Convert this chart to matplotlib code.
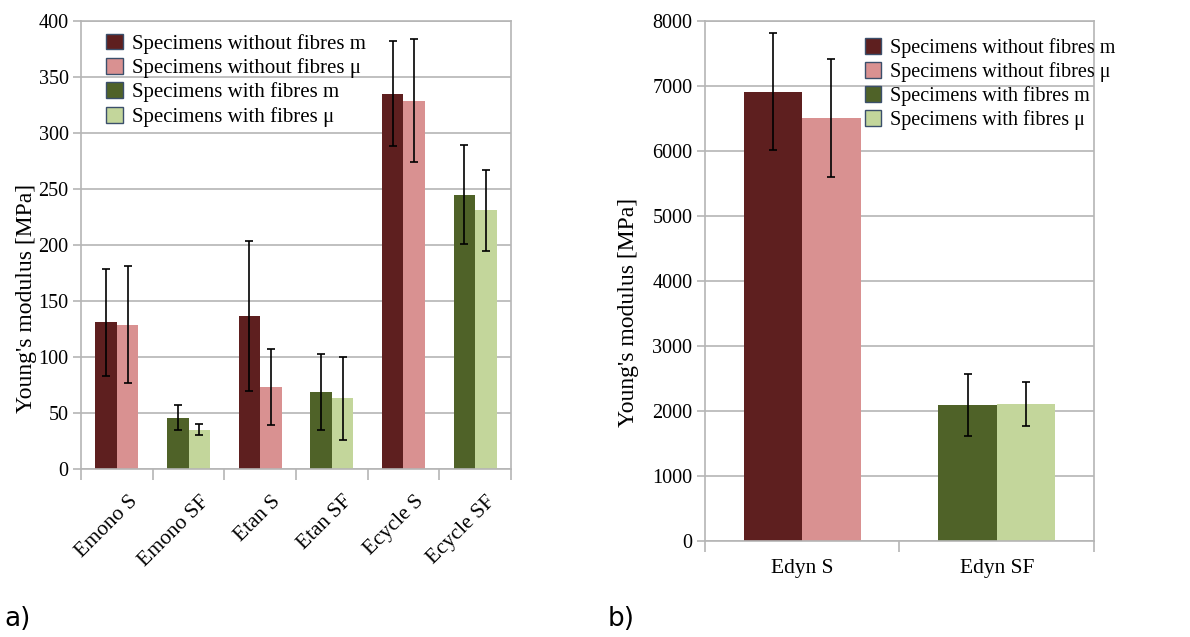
import numpy as np
import matplotlib
matplotlib.use("Agg")
import matplotlib.pyplot as plt
from matplotlib.patches import Patch
from matplotlib.transforms import ScaledTranslation

plt.rcParams['font.family'] = ['Liberation Serif', 'DejaVu Serif']

# a) quasi-static moduli
categories_a = ['Emono S', 'Emono SF', 'Etan S', 'Etan SF', 'Ecycle S', 'Ecycle SF']
m_a = [131, 46, 137, 69, 335, 245]
m_err_a = [48, 11, 67, 34, 47, 44]
mu_a = [129, 35, 73, 63, 329, 231]
mu_err_a = [52, 5, 34, 37, 55, 36]

# b) dynamic modulus
categories_b = ['Edyn S', 'Edyn SF']
m_b = [6910, 2090]
m_err_b = [900, 480]
mu_b = [6510, 2100]
mu_err_b = [905, 335]

legend_labels = ['Specimens without fibres m', 'Specimens without fibres μ',
                 'Specimens with fibres m', 'Specimens with fibres μ']
colors = ['#5e1f1f', '#d99191', '#4f6228', '#c3d69b']
grid_col = '#b5b5b5'


def draw_panel(ax, cats, m, m_err, mu, mu_err, ymax, ystep):
    x = np.arange(len(cats))
    w = 0.3
    # SF = with fibres -> green pair, S -> red pair
    c_m = [colors[2] if c.endswith('SF') else colors[0] for c in cats]
    c_mu = [colors[3] if c.endswith('SF') else colors[1] for c in cats]
    ax.bar(x - w / 2, m, w, color=c_m, zorder=2)
    ax.bar(x + w / 2, mu, w, color=c_mu, zorder=2)
    ekw = dict(fmt='none', ecolor='black', elinewidth=1.2, capsize=2.7, capthick=1.2, zorder=3)
    ax.errorbar(x - w / 2, m, yerr=m_err, **ekw)
    ax.errorbar(x + w / 2, mu, yerr=mu_err, **ekw)

    ax.set_xlim(-0.5, len(cats) - 0.5)
    ax.set_ylim(0, ymax)
    ax.set_yticks(np.arange(0, ymax + 1, ystep))
    ax.yaxis.grid(True, color=grid_col, linewidth=1.2, zorder=0)
    ax.set_axisbelow(True)
    ax.set_xticks(x)
    ax.set_xticks(np.arange(-0.5, len(cats)), minor=True)
    ax.tick_params(axis='x', which='major', length=0, labelsize=15.5, pad=8)
    ax.tick_params(axis='x', which='minor', length=8, width=1.2, color=grid_col)
    ax.tick_params(axis='y', length=6, width=1.2, color=grid_col, labelsize=14.5, pad=3)
    for s in ax.spines.values():
        s.set_color(grid_col)
        s.set_linewidth(1.2)
    ax.set_ylabel("Young's modulus [MPa]", fontsize=17)


fig = plt.figure(figsize=(11.9, 6.37), dpi=100)
ax1 = fig.add_axes([0.0681, 0.2637, 0.3613, 0.7033])
ax2 = fig.add_axes([0.5924, 0.1512, 0.3269, 0.8159])

draw_panel(ax1, categories_a, m_a, m_err_a, mu_a, mu_err_a, 400, 50)
ax1.set_xticklabels(categories_a, rotation=45, ha='right', rotation_mode='anchor')
for lbl in ax1.get_xticklabels():
    lbl.set_transform(lbl.get_transform() + ScaledTranslation(0.11, -0.12, fig.dpi_scale_trans))
ax1.yaxis.set_label_coords(-0.103, 0.38)

draw_panel(ax2, categories_b, m_b, m_err_b, mu_b, mu_err_b, 8000, 1000)
ax2.set_xticklabels(categories_b)
ax2.tick_params(axis='x', which='major', pad=13)
ax2.yaxis.set_label_coords(-0.17, 0.44)

handles = [Patch(facecolor=c, edgecolor='#3b4f6b', linewidth=1.0) for c in colors]
for ax, anchor, fs in [(ax1, (0.03, 1.0), 15), (ax2, (0.38, 0.99), 14.5)]:
    ax.legend(handles, legend_labels, loc='upper left', bbox_to_anchor=anchor,
              frameon=False, fontsize=fs, labelspacing=0.2, handlelength=0.8,
              handleheight=0.8, handletextpad=0.45, borderaxespad=0.2)

fig.text(0.004, 0.018, 'a)', fontsize=19, family='DejaVu Sans', va='baseline')
fig.text(0.511, 0.018, 'b)', fontsize=19, family='DejaVu Sans', va='baseline')

fig.savefig('out.png', dpi=100)
